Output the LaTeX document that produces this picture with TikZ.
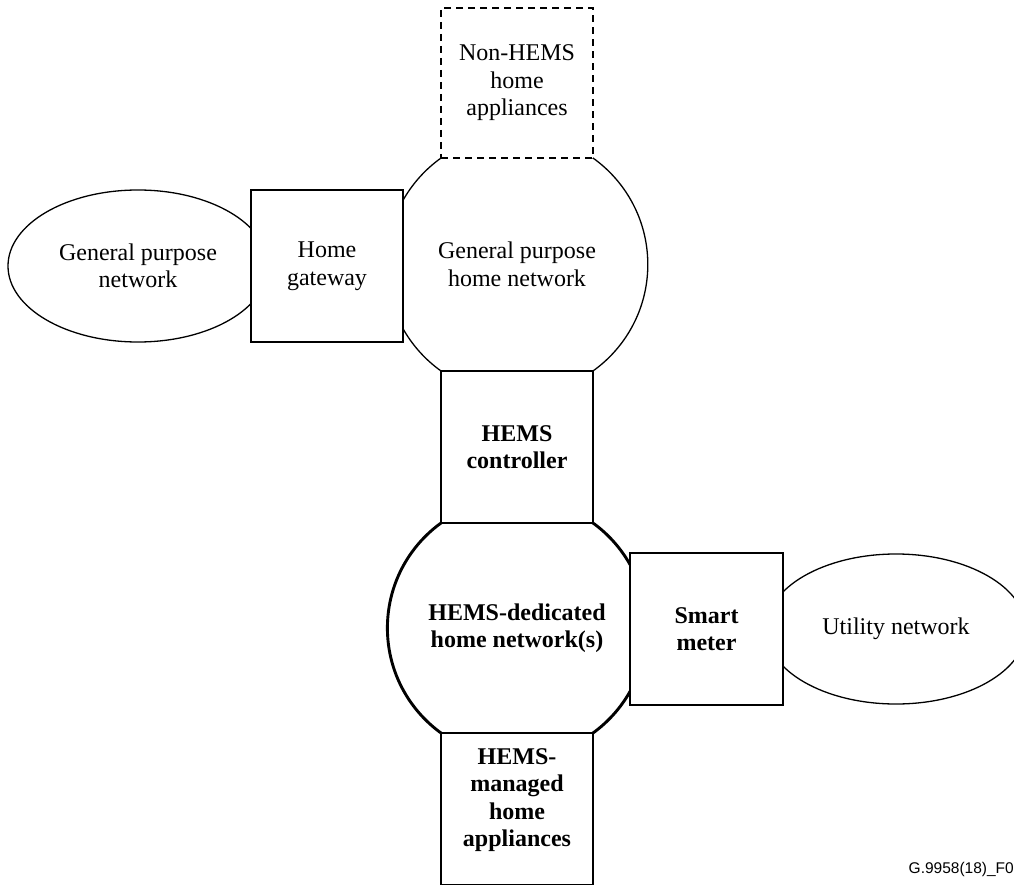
\documentclass[tikz,border=0pt]{standalone}
\usepackage{fontspec}
\setmainfont{Liberation Serif}
\newfontfamily\tagfont{Liberation Sans}
\usetikzlibrary{shapes.geometric}

\begin{document}
\begin{tikzpicture}[x=1pt,y=-1pt,
  txt/.style={align=center, inner sep=0pt, font=\fontsize{24}{27.5}\selectfont},
  thinline/.style={line width=1.3pt},
  thickline/.style={line width=2.9pt},
  boxnode/.style={txt, draw, fill=white, rectangle, minimum width=152pt, minimum height=152pt},
  netcircle/.style={txt, draw, circle},
  netellipse/.style={txt, draw, ellipse, thinline},
  hems/.style={thickline, font=\fontsize{24}{27.5}\selectfont\bfseries},
  dashedbox/.style={thinline, dash pattern=on 7pt off 5pt}
]
\clip (0,0) rectangle (1014,885);

% networks (drawn first so the boxes hide the overlapping parts)
\node[netellipse, minimum width=260pt, minimum height=152pt] (gpn) at (138,266) {General purpose\\network};
\node[netellipse, minimum width=260pt, minimum height=150pt] (util) at (896,629) {Utility network};
\node[netcircle, thinline, minimum size=261.6pt] (gphn) at (517,264.5) {General purpose\\home network};
\node[netcircle, hems, minimum size=259.2pt] (hdhn) at (517,628) {HEMS-dedicated\\home network(s)};

% devices
\node[boxnode, dashedbox, minimum height=150pt] (nonhems) at (517,83) {Non-HEMS\\home\\appliances};
\node[boxnode, thinline] (gateway) at (327,266) {Home\\gateway};
\node[boxnode, hems] (controller) at (517,447) {HEMS\\controller};
\node[boxnode, hems, minimum width=153pt] (meter) at (706.5,629) {Smart\\meter};
\node[boxnode, hems] (managed) at (517,809) {};
\node[txt, font=\fontsize{24}{27.5}\selectfont\bfseries] (managedtext) at (517,800) {HEMS-\\managed\\home\\appliances};

\node[anchor=base east, inner sep=0pt, font=\tagfont\fontsize{15.5}{18}\selectfont] (figtag) at (1014,873) {G.9958(18)\_F0};
\end{tikzpicture}
\end{document}
